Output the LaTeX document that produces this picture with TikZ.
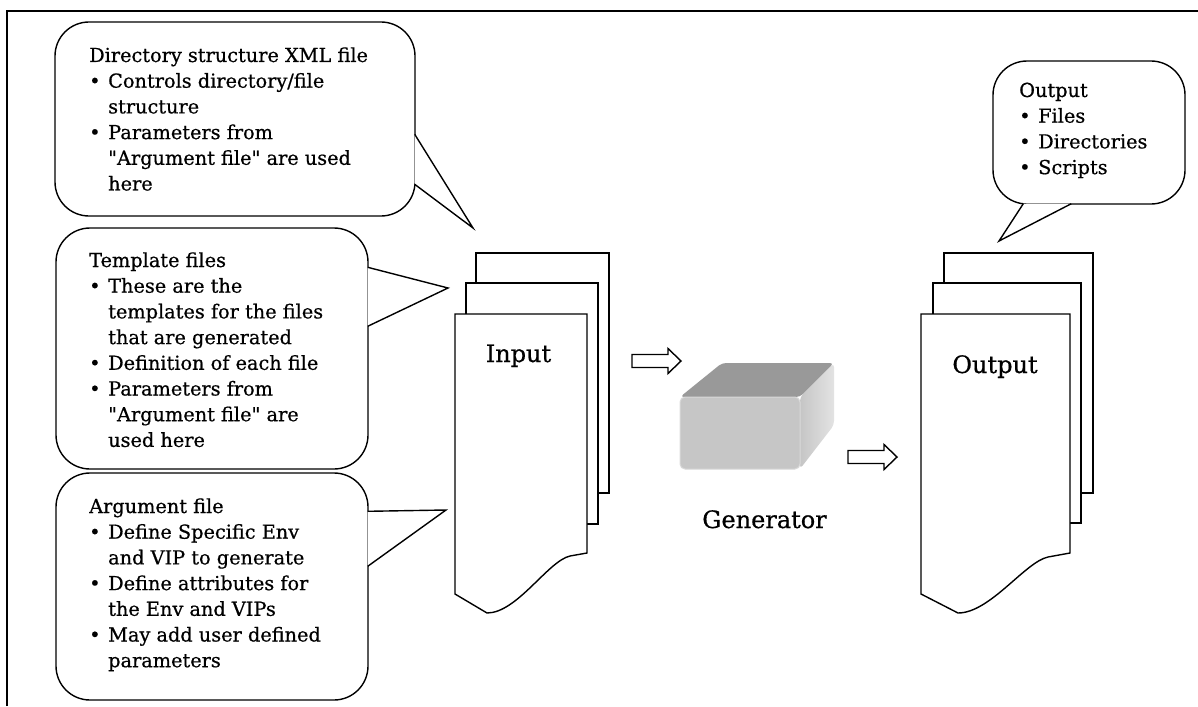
\documentclass[tikz,border=0pt]{standalone}
\usepackage{fontspec}
\setmainfont{DejaVu Serif}[FakeBold=0.6]
\usepackage{tikz}
\newcommand{\bubfont}{\fontsize{19.3}{25.7}\selectfont}
\newcommand{\labelfont}{\fontsize{24}{29}\selectfont}
\newcommand{\BUL}{\makebox[19pt][l]{\textbullet}}
\newcommand{\IND}{\hspace*{19pt}}
\newcommand{\Q}{\textquotedbl}
\newcommand{\blockarrow}[1]{\draw[BLOCKARROW] #1 ++(0,-6.5) -- ++(36,0) -- ++(0,-6) -- ++(13,12.5) -- ++(-13,12.5) -- ++(0,-6) -- ++(-36,0) -- cycle;}
\tikzset{
LINE/.style ={draw=black,line join=miter,line cap=butt,line width=1.4pt},
BUBBLE/.style={LINE, fill=white, rounded corners=34pt, inner sep=0pt},
TAIL/.style={LINE, fill=white},
PAGE/.style={LINE, fill=white},
BLOCKARROW/.style={LINE, fill=white},
BUBTEXT/.style={font=\bubfont, inner sep=0pt, anchor=base west},
BIGLABEL/.style={font=\labelfont, inner sep=0pt, anchor=base},
}
\begin{document}
\begin{tikzpicture}[x=1pt, y=-1pt]
	\useasboundingbox (0,0) rectangle (1198,706);
	\draw[line width=1.2pt] (7,706) -- (7,11) -- (1198,11);
	% callouts
	\node[BUBBLE, minimum width=360pt, minimum height=194pt] (dirBub) at (235,119) {};
	\node[BUBBLE, minimum width=312pt, minimum height=241pt] (tplBub) at (212,348.5) {};
	\node[BUBBLE, minimum width=312pt, minimum height=227pt] (argBub) at (212,586.5) {};
	\node[BUBBLE, minimum width=192pt, minimum height=143pt] (outBub) at (1089,132.5) {};
	\coordinate (dirTip) at (473,228);
	\coordinate (tplTip) at (448,288);
	\coordinate (argTip) at (446,510);
	\coordinate (outTip) at (999,241);
	\path[TAIL] ([xshift=-1pt,yshift=-113pt]dirBub.north east) -- (dirTip) -- ([xshift=-1pt,yshift=-163pt]dirBub.north east);
	\path[TAIL] ([xshift=-1pt,yshift=-40pt]tplBub.north east) -- (tplTip) -- ([xshift=-1pt,yshift=-99pt]tplBub.north east);
	\path[TAIL] ([xshift=-1pt,yshift=-39pt]argBub.north east) -- (argTip) -- ([xshift=-1pt,yshift=-94pt]argBub.north east);
	\path[TAIL] ([xshift=31pt,yshift=1pt]outBub.south west) -- (outTip) -- ([xshift=79pt,yshift=1pt]outBub.south west);
	\node[BUBTEXT] (dirTxt) at (89,62) {\begin{tabular}[t]{@{}l@{}}
		Directory structure XML file\\
		\BUL Controls directory/file\\
		\IND structure\\
		\BUL Parameters from\\
		\IND \Q Argument file\Q{} are used\\
		\IND here
	\end{tabular}};
	\node[BUBTEXT] (tplTxt) at (89,267) {\begin{tabular}[t]{@{}l@{}}
		Template files\\
		\BUL These are the\\
		\IND templates for the files\\
		\IND that are generated\\
		\BUL Definition of each file\\
		\BUL Parameters from\\
		\IND \Q Argument file\Q{} are\\
		\IND used here
	\end{tabular}};
	\node[BUBTEXT] (argTxt) at (89,513) {\begin{tabular}[t]{@{}l@{}}
		Argument file\\
		\BUL Define Specific Env\\
		\IND and VIP to generate\\
		\BUL Define attributes for\\
		\IND the Env and VIPs\\
		\BUL May add user defined\\
		\IND parameters
	\end{tabular}};
	\node[BUBTEXT] (outTxt) at (1019,97) {\begin{tabular}[t]{@{}l@{}}
		Output\\
		\BUL Files\\
		\BUL Directories\\
		\BUL Scripts
	\end{tabular}};
	% input pages
	\path[PAGE] (476,253) rectangle (609,493);
	\path[PAGE] (466,283) rectangle (598,524);
	\path[PAGE] (455,314) -- (587,314) -- (587,553) -- (570,556) .. controls (548,561) and (517,613) .. (487,613) -- (455,594) -- cycle;
	\node[BIGLABEL] (inLbl) at (518.5,362) {Input};
	% output pages
	\path[PAGE] (944,253) rectangle (1093,493);
	\path[PAGE] (933,283) rectangle (1081,523);
	\path[PAGE] (921,314) -- (1070,314) -- (1070,553) -- (1048,557) .. controls (1025,562) and (990,613) .. (958,613) -- (921,594) -- cycle;
	\node[BIGLABEL] (outLbl) at (995,373) {Output};
	% generator block
	\fill[gray!80!white, rounded corners=4pt] (680,397) -- (722,363) -- (834,363) -- (800,397) -- cycle;
	\shade[left color=gray!45!white, right color=gray!22!white, rounded corners=4pt] (800,397) -- (834,363) -- (834,425) -- (800,469) -- cycle;
	\node[draw=gray!30, line width=1pt, fill=gray!45!white, rounded corners=5pt, minimum width=120pt, minimum height=72pt, inner sep=0pt] (gen) at (740,433) {};
	\node[BIGLABEL] (genLbl) at (764.5,528) {Generator};
	\blockarrow{(632,361)}
	\blockarrow{(848,457)}
\end{tikzpicture}
\end{document}
